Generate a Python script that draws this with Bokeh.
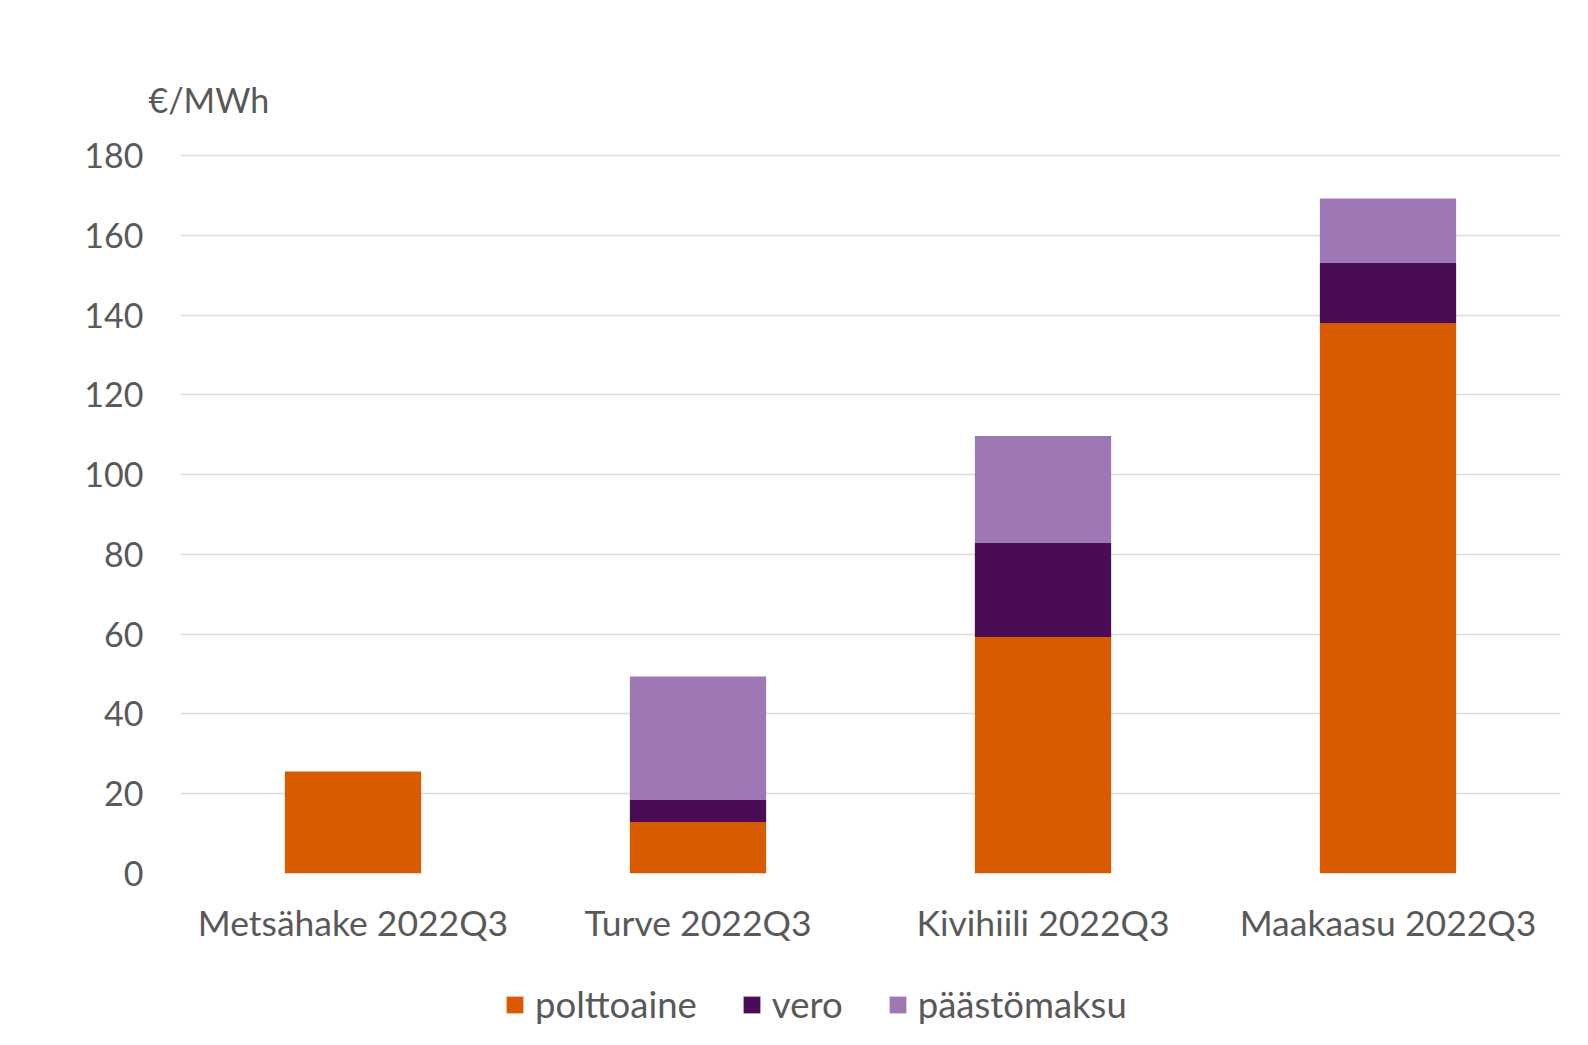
from bokeh.plotting import figure
from bokeh.layouts import column
from bokeh.models import (Legend, LegendItem, Title, FactorRange,
                          Range1d, FixedTicker, ColumnDataSource)
from bokeh.embed import file_html
from bokeh.resources import INLINE

categories = ["Metsähake 2022Q3", "Turve 2022Q3", "Kivihiili 2022Q3", "Maakaasu 2022Q3"]
polttoaine = [25.6, 12.9, 59.3, 138.0]
vero = [0.0, 5.5, 23.7, 15.2]
paastomaksu = [0.0, 31.0, 26.7, 16.0]
series_keys = ["polttoaine", "vero", "paastomaksu"]
series_labels = ["polttoaine", "vero", "päästömaksu"]
colors = ["#D95B00", "#490C55", "#9E78B4"]
y_ticks = [0, 20, 40, 60, 80, 100, 120, 140, 160, 180]
unit_label = "€/MWh"

FONT = "Lato"
FS = "34px"
TEXT_COLOR = "#595959"
W = 1588
MAIN_H = 975
LEG_H = 70

src = ColumnDataSource(dict(cat=categories, polttoaine=polttoaine, vero=vero,
                            paastomaksu=paastomaksu))
xr = FactorRange(*categories, range_padding=0)

p = figure(width=W, height=MAIN_H, x_range=xr,
           y_range=Range1d(0, 180.5), output_backend="svg", toolbar_location=None,
           min_border_left=180, min_border_right=28, min_border_top=153,
           min_border_bottom=MAIN_H - 873)
p.outline_line_color = None
p.background_fill_color = "white"
p.border_fill_color = "white"

p.vbar_stack(series_keys, x="cat", width=0.395, color=colors, line_color=None, source=src)

# axes
p.yaxis.ticker = FixedTicker(ticks=y_ticks)
p.yaxis.axis_line_color = None
p.yaxis.major_tick_line_color = None
p.yaxis.minor_tick_line_color = None
p.yaxis.major_tick_out = 0
p.yaxis.major_tick_in = 0
p.yaxis.major_label_standoff = 37
p.yaxis.major_label_text_font = FONT
p.yaxis.major_label_text_font_size = FS
p.yaxis.major_label_text_color = TEXT_COLOR

p.xaxis.axis_line_color = None
p.xaxis.major_tick_line_color = None
p.xaxis.major_tick_out = 0
p.xaxis.major_tick_in = 0
p.xaxis.major_label_standoff = 27
p.xaxis.major_label_text_font = FONT
p.xaxis.major_label_text_font_size = "35.5px"
p.xaxis.major_label_text_color = TEXT_COLOR

p.xgrid.grid_line_color = None
p.ygrid.grid_line_color = "#DCDCDC"
p.ygrid.grid_line_width = 1.5

# unit label above the value axis
p.add_layout(Title(text=unit_label, align="left", offset=-32, standoff=68,
                   text_font=FONT, text_font_size=FS, text_color=TEXT_COLOR,
                   text_font_style="normal"), "above")

# legend strip below the chart: proxy renderers are muted (invisible),
# the legend still draws their normal glyphs
lg = figure(width=W, height=LEG_H, output_backend="svg", toolbar_location=None,
            x_range=xr, y_range=Range1d(0, 200),
            min_border_left=180, min_border_right=28, min_border_top=0,
            min_border_bottom=0)
lg.axis.visible = False
lg.grid.visible = False
lg.outline_line_color = None
lg.border_fill_color = "white"
lg.background_fill_color = "white"
leg_renderers = lg.vbar_stack(series_keys, x="cat", width=0.395, color=colors,
                              line_color=None, source=src,
                              muted_fill_alpha=0, muted_line_alpha=0)
for r in leg_renderers:
    r.muted = True
items = [LegendItem(label=lab, renderers=[r]) for lab, r in zip(series_labels, leg_renderers)]
legend = Legend(items=items, orientation="horizontal", location=(324, 19),
                glyph_width=21, glyph_height=21, label_standoff=10, spacing=44,
                padding=0, margin=0, border_line_color=None, background_fill_alpha=0,
                label_text_font=FONT, label_text_font_size="36.5px",
                label_text_color=TEXT_COLOR)
lg.add_layout(legend, "center")

layout = column(p, lg, spacing=0)
open("out.html", "w").write(file_html(layout, INLINE))
